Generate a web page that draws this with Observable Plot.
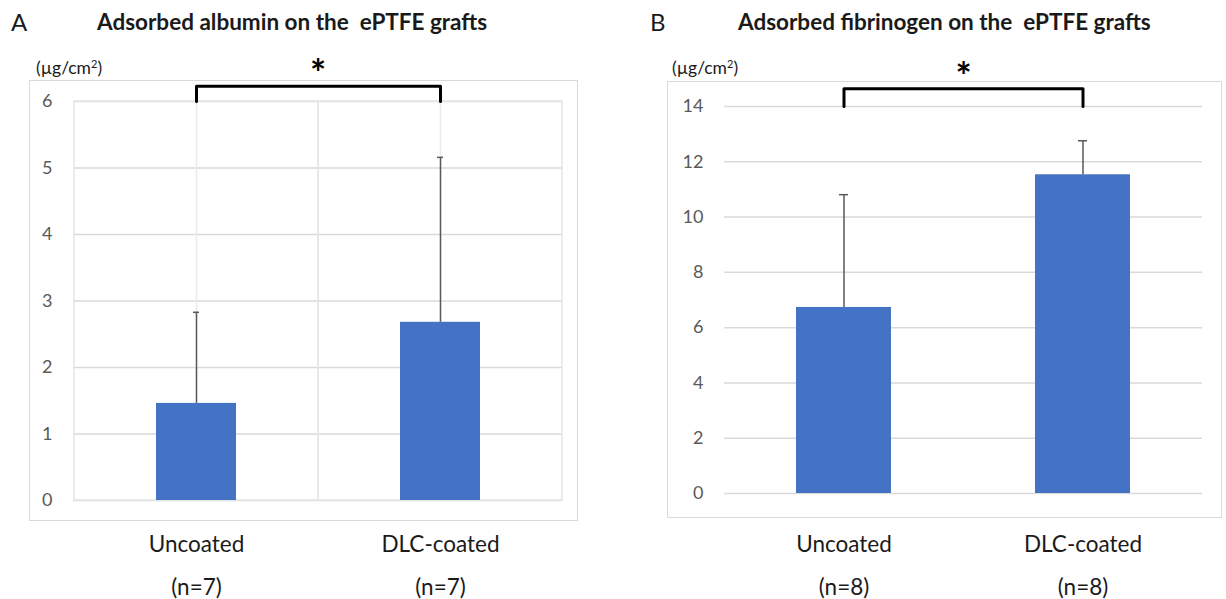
<!DOCTYPE html>
<html>
<head>
<meta charset="utf-8">
<script src="https://cdn.jsdelivr.net/npm/d3@7"></script>
<script src="https://cdn.jsdelivr.net/npm/@observablehq/plot@0.6"></script>
<style>
  html, body { margin: 0; padding: 0; background: #fff; }
  #root { position: relative; width: 1226px; height: 599px; overflow: hidden; font-family: Lato, "Noto Sans", sans-serif; color: #1a1a1a; }
  .abs { position: absolute; white-space: nowrap; }
  .frame { position: absolute; border: 1.5px solid #d9d9d9; box-sizing: border-box; }
  .panelLetter { font-size: 24px; line-height: 1; }
  .title { font-size: 22.5px; font-weight: bold; line-height: 1; }
  .unit { font-size: 17.5px; line-height: 1; }
  .unit sup { font-size: 11px; vertical-align: 6px; line-height: 0; }
</style>
</head>
<body>
<div id="root">
  <div class="frame" style="left:29px; top:80px; width:549px; height:441px;"></div>
  <div class="frame" style="left:667px; top:81px; width:555px; height:437px;"></div>
  <div class="abs panelLetter" style="left:11px; top:10px;">A</div>
  <div class="abs panelLetter" style="left:650px; top:10px;">B</div>
  <div class="abs title" style="left:97px; top:11px;">Adsorbed albumin on the&nbsp; ePTFE grafts</div>
  <div class="abs title" style="left:738px; top:11px;">Adsorbed fibrinogen on the&nbsp; ePTFE grafts</div>
  <div class="abs unit" style="left:36px; top:59px;">(µg/cm<sup>2</sup>)</div>
  <div class="abs unit" style="left:672px; top:59px;">(µg/cm<sup>2</sup>)</div>
  <div id="pa" class="abs" style="left:0px; top:80px;"></div>
  <div id="pb" class="abs" style="left:620px; top:80px;"></div>
</div>
<script>
// ---- data ----
const categories = ["Uncoated", "DLC-coated"];
const albuminMean = [1.46, 2.68];
const albuminSD = [1.37, 2.48];
const fibrinogenMean = [6.73, 11.53];
const fibrinogenSD = [4.08, 1.23];
const nLabelsA = ["(n=7)", "(n=7)"];
const nLabelsB = ["(n=8)", "(n=8)"];
const yTicksA = [0, 1, 2, 3, 4, 5, 6];
const yTicksB = [0, 2, 4, 6, 8, 10, 12, 14];
const significance = "*";

const FONT = "Lato, 'Noto Sans', sans-serif";
const BAR = "#4472C4";
const GRID = "#d9d9d9";
const ERR = "#595959";

function panel(o) {
  const rows = categories.map((c, i) => ({cat: c, mean: o.mean[i], sd: o.sd[i], n: o.n[i]}));
  const yMax = o.ticks[o.ticks.length - 1];
  const bracketLevel = yMax * o.bracketFactor;
  const bracket = [
    {cat: categories[0], y: yMax},
    {cat: categories[0], y: bracketLevel},
    {cat: categories[1], y: bracketLevel},
    {cat: categories[1], y: yMax}
  ];
  return Plot.plot({
    width: o.width, height: o.height,
    marginLeft: o.ml, marginRight: o.mr, marginTop: o.mt, marginBottom: o.mb,
    x: {domain: categories, padding: 0, axis: null},
    y: {domain: [0, yMax], axis: null},
    style: {fontFamily: FONT, background: "transparent", overflow: "visible"},
    marks: [
      Plot.gridY(o.ticks, {stroke: GRID, strokeOpacity: 1, strokeWidth: 1.5}),
      o.vgrid ? Plot.barY(categories, {x: d => d, y1: 0, y2: yMax, fill: "none", stroke: "#e6e6e6", strokeWidth: 1.5}) : null,
      o.vgrid ? Plot.ruleX(categories, {x: d => d, y1: 0, y2: yMax, stroke: "#ebebeb", strokeWidth: 1.5}) : null,
      Plot.barY(rows, {x: "cat", y: "mean", fill: BAR, insetLeft: o.barInset, insetRight: o.barInset}),
      Plot.ruleX(rows, {x: "cat", y1: "mean", y2: d => d.mean + d.sd, stroke: ERR, strokeWidth: 1.5}),
      Plot.tickY(rows, {x: "cat", y: d => d.mean + d.sd, stroke: ERR, strokeWidth: 1.5, insetLeft: o.capInset, insetRight: o.capInset}),
      Plot.line(bracket, {x: "cat", y: "y", stroke: "#000", strokeWidth: 3, curve: "linear"}),
      Plot.text([significance], {frameAnchor: "top", lineAnchor: "middle", dy: o.starDy, fontSize: 38, fontWeight: "bold", fill: "#000", text: d => d}),
      Plot.axisY({ticks: o.ticks, tickFormat: d => String(d), label: null, tickSize: 0, tickPadding: 21, fontSize: 18, fill: "#595959"}),
      Plot.axisX({label: null, tickSize: 0, tickPadding: o.labelPad, fontSize: 22.5, fill: "#1a1a1a"}),
      Plot.text(rows, {x: "cat", text: "n", frameAnchor: "bottom", lineAnchor: "middle", dy: o.nDy, fontSize: 22.5, fill: "#1a1a1a"})
    ]
  });
}

document.getElementById("pa").append(panel({
  mean: albuminMean, sd: albuminSD, n: nLabelsA, ticks: yTicksA,
  width: 600, height: 519, ml: 73, mr: 38, mt: 21, mb: 99,
  barInset: 82, capInset: 119, vgrid: true, bracketFactor: 1.038,
  starDy: -27, labelPad: 36, nDy: 87
}));

document.getElementById("pb").append(panel({
  mean: fibrinogenMean, sd: fibrinogenSD, n: nLabelsB, ticks: yTicksB,
  width: 606, height: 519, ml: 104, mr: 24, mt: 26, mb: 106,
  barInset: 72, capInset: 115, vgrid: false, bracketFactor: 1.0457,
  starDy: -29, labelPad: 43, nDy: 94
}));
</script>
</body>
</html>
